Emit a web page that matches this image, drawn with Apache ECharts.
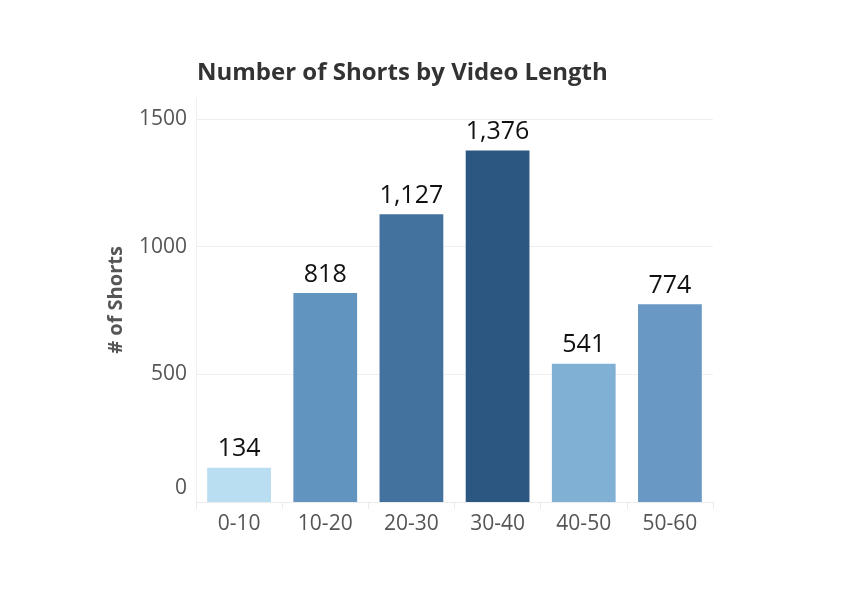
<!DOCTYPE html>
<html><head><meta charset="utf-8">
<script src="https://cdn.jsdelivr.net/npm/echarts@6/dist/echarts.min.js"></script>
<style>html,body{margin:0;padding:0;background:#fff}#c{width:858px;height:600px}</style>
</head><body><div id="c"></div>
<script>
const categories = ['0-10','10-20','20-30','30-40','40-50','50-60'];
const shorts = [134, 818, 1127, 1376, 541, 774];
const barColors = ['#b9ddf1','#6194bf','#44729f','#2b5781','#81b0d5','#6898c3'];
const yTicks = [0, 500, 1000, 1500];

const chart = echarts.init(document.getElementById('c'));
chart.setOption({
  backgroundColor: '#fff',
  animation: false,
  title: {
    text: 'Number of Shorts by Video Length',
    left: 192, top: 56,
    textStyle: { fontFamily: 'Open Sans', fontWeight: 'bold', fontSize: 24, color: '#333' }
  },
  grid: { left: 196, right: 145, top: 98, bottom: 98, containLabel: false },
  xAxis: {
    type: 'category',
    data: categories,
    axisLine: { show: true, lineStyle: { color: '#ebebeb' } },
    axisTick: { show: true, length: 7, lineStyle: { color: '#ebebeb' } },
    axisLabel: { fontFamily: 'Open Sans', fontSize: 21, color: '#555', margin: 12 }
  },
  yAxis: {
    type: 'value',
    min: 0, max: 1582, interval: 500,
    name: '# of Shorts',
    nameLocation: 'middle',
    nameGap: 70,
    nameTextStyle: { fontFamily: 'Open Sans', fontWeight: 'bold', fontSize: 20, color: '#555' },
    axisLine: { show: true, lineStyle: { color: '#f0f0f0' } },
    axisTick: { show: false },
    axisLabel: { fontFamily: 'Open Sans', fontSize: 21, color: '#555', margin: 9, showMaxLabel: false,
      formatter: v => v === 0 ? '{z|0}' : (yTicks.includes(v) ? String(v) : ''),
      rich: { z: { fontFamily: 'Open Sans', fontSize: 21, color: '#555', padding: [0, 0, 28, 0] } } },
    splitLine: { show: true, showMaxLine: false, showMinLine: false, lineStyle: { color: '#efefef' } }
  },
  series: [{
    type: 'bar',
    data: shorts.map((v, i) => ({ value: v, itemStyle: { color: barColors[i] } })),
    barCategoryGap: '26%',
    label: {
      show: true, position: 'top', distance: 6,
      fontFamily: 'Open Sans', fontSize: 25, color: '#111',
      formatter: p => p.value.toLocaleString('en-US')
    }
  }]
});
</script></body></html>
